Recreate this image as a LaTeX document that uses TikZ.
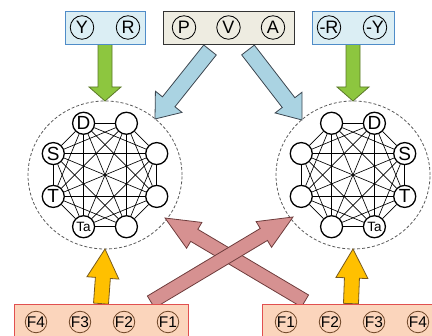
\documentclass[tikz,border=0pt]{standalone}
\usepackage{fontspec}
\setmainfont{Liberation Sans}
\usetikzlibrary{calc}
\pgfdeclarelayer{bg}
\pgfsetlayers{bg,main}
\definecolor{boxblue}{RGB}{219,238,244}
\definecolor{boxblueline}{RGB}{79,140,200}
\definecolor{boxbeige}{RGB}{238,236,225}
\definecolor{boxpeach}{RGB}{251,213,188}
\definecolor{boxred}{RGB}{225,80,80}
\definecolor{fbrown}{RGB}{110,70,40}
\definecolor{agreen}{RGB}{141,198,63}
\definecolor{agreenline}{RGB}{90,120,40}
\definecolor{ablue}{RGB}{170,211,226}
\definecolor{ablueline}{RGB}{60,70,80}
\definecolor{ared}{RGB}{214,145,145}
\definecolor{aredline}{RGB}{110,60,60}
\definecolor{ayellow}{RGB}{255,192,0}
\definecolor{ayellowline}{RGB}{120,90,30}
\definecolor{dashgray}{RGB}{90,90,90}
% from, to, fill, draw, half shaft, half head, head length
\newcommand\fatarrow[7]{%
  \coordinate (hb) at ($(#2)!#7!(#1)$);
  \draw[fill=#3,draw=#4,line width=0.8pt,line join=miter]
    ($(#1)!#5!-90:(#2)$) -- ($(hb)!#5!-90:(#2)$) -- ($(hb)!#6!-90:(#2)$) -- (#2)
    -- ($(hb)!#6!90:(#2)$) -- ($(hb)!#5!90:(#2)$) -- ($(#1)!#5!90:(#2)$) -- cycle;}
\tikzset{
  gnode/.style={circle,draw,fill=white,line width=1.3pt,minimum size=22pt,inner sep=0pt,
    font=\fontsize{19}{19}\selectfont},
  tnode/.style={circle,draw,line width=0.8pt,minimum size=23.5pt,inner sep=0pt,
    font=\fontsize{18}{18}\selectfont},
  fnode/.style={circle,draw=fbrown,fill=boxpeach,line width=0.8pt,minimum size=21.5pt,inner sep=0pt,
    font=\fontsize{15.5}{15.5}\selectfont},
  bluebox/.style={draw=boxblueline,fill=boxblue,line width=0.8pt,minimum height=33pt,inner sep=0pt},
  beigebox/.style={draw=black!80,fill=boxbeige,line width=0.8pt,minimum height=33pt,inner sep=0pt},
  peachbox/.style={draw=boxred,fill=boxpeach,line width=0.8pt,minimum height=36pt,inner sep=0pt},
  dashring/.style={draw=dashgray,line width=0.8pt,dash pattern=on 3pt off 2pt},
  kedge/.style={line width=0.65pt,black}
}
\begin{document}
\begin{tikzpicture}[x=1pt,y=-1pt]
\useasboundingbox (0,0) rectangle (432,336);
% top boxes
\node[bluebox,minimum width=80pt] (YR) at (105,27.5) {};
\node[tnode,fill=boxblue] (Y) at (82,27.5) {Y};
\node[tnode,fill=boxblue] (R) at (128,27.5) {R};
\node[beigebox,minimum width=131pt] (PVA) at (228.5,27.5) {};
\node[tnode,fill=boxbeige] (P) at (184,27.5) {P};
\node[tnode,fill=boxbeige] (V) at (228.5,27.5) {V};
\node[tnode,fill=boxbeige] (A) at (273,27.5) {A};
\node[bluebox,minimum width=82pt] (mRY) at (353,27.5) {};
\node[tnode,fill=boxblue] (mR) at (329,27.5) {-R};
\node[tnode,fill=boxblue] (mY) at (375,27.5) {-Y};
% bottom boxes
\node[peachbox,minimum width=174pt] (FL) at (101,322) {};
\node[fnode] (FL4) at (36,322) {F4};
\node[fnode] (FL3) at (80,322) {F3};
\node[fnode] (FL2) at (124,322) {F2};
\node[fnode] (FL1) at (168,322) {F1};
\node[peachbox,minimum width=178pt] (FR) at (351,322) {};
\node[fnode] (FR1) at (286,322) {F1};
\node[fnode] (FR2) at (330,322) {F2};
\node[fnode] (FR3) at (374,322) {F3};
\node[fnode] (FR4) at (418,322) {F4};
% graphs
\node[circle,minimum size=148pt,inner sep=0pt] (ringL) at (105,175) {};
\node[circle,minimum size=148pt,inner sep=0pt] (ringR) at (353,175) {};
\foreach \side/\cx/\labs in {L/105/{1/,2/,3/D,4/S,5/T,6/{\fontsize{13.5}{13.5}\selectfont Ta},7/,8/},
                            R/353/{1/S,2/D,3/,4/,5/,6/,7/{\fontsize{13.5}{13.5}\selectfont Ta},8/T}} {
  \foreach \i/\t in \labs {
    \pgfmathsetmacro\ang{22.5+45*(\i-1)}
    \node[gnode] (\side\i) at ({\cx+56*cos(\ang)},{175-56*sin(\ang)}) {\t};
  }
  \foreach \i in {1,...,7} {
    \pgfmathtruncatemacro\k{\i+1}
    \foreach \j in {\k,...,8} {\draw[kedge] (\side\i) -- (\side\j);}
  }
}
% connector end points
\coordinate (gLtip) at (105,101);
\coordinate (gRtip) at (353,101);
\coordinate (bLtail) at (210,50);
\coordinate (bLtip) at (155,119);
\coordinate (bRtail) at (248,50);
\coordinate (bRtip) at (302,120);
\coordinate (yLtip) at (105,249);
\coordinate (yRtip) at (353,249);
\coordinate (rAtail) at (151,302);
\coordinate (rAtip) at (293,217);
\coordinate (rBtail) at (305,301);
\coordinate (rBtip) at (165,218);
\begin{pgfonlayer}{bg}
\draw[dashring] (ringL.center) ellipse[x radius=77pt,y radius=74pt];
\draw[dashring] (ringR.center) ellipse[x radius=77pt,y radius=74pt];
\fatarrow{YR.south}{gLtip}{agreen}{agreenline}{7pt}{16pt}{14pt}
\fatarrow{mRY.south}{gRtip}{agreen}{agreenline}{7pt}{16pt}{14pt}
\fatarrow{bLtail}{bLtip}{ablue}{ablueline}{8pt}{17pt}{22pt}
\fatarrow{bRtail}{bRtip}{ablue}{ablueline}{8pt}{17pt}{22pt}
\fatarrow{FL.north}{yLtip}{ayellow}{ayellowline}{7.5pt}{16pt}{29pt}
\fatarrow{FR.north}{yRtip}{ayellow}{ayellowline}{7.5pt}{16pt}{29pt}
\fatarrow{rBtail}{rBtip}{ared}{aredline}{7pt}{15pt}{34pt}
\fatarrow{rAtail}{rAtip}{ared}{aredline}{7pt}{15pt}{34pt}
\end{pgfonlayer}
\end{tikzpicture}
\end{document}
